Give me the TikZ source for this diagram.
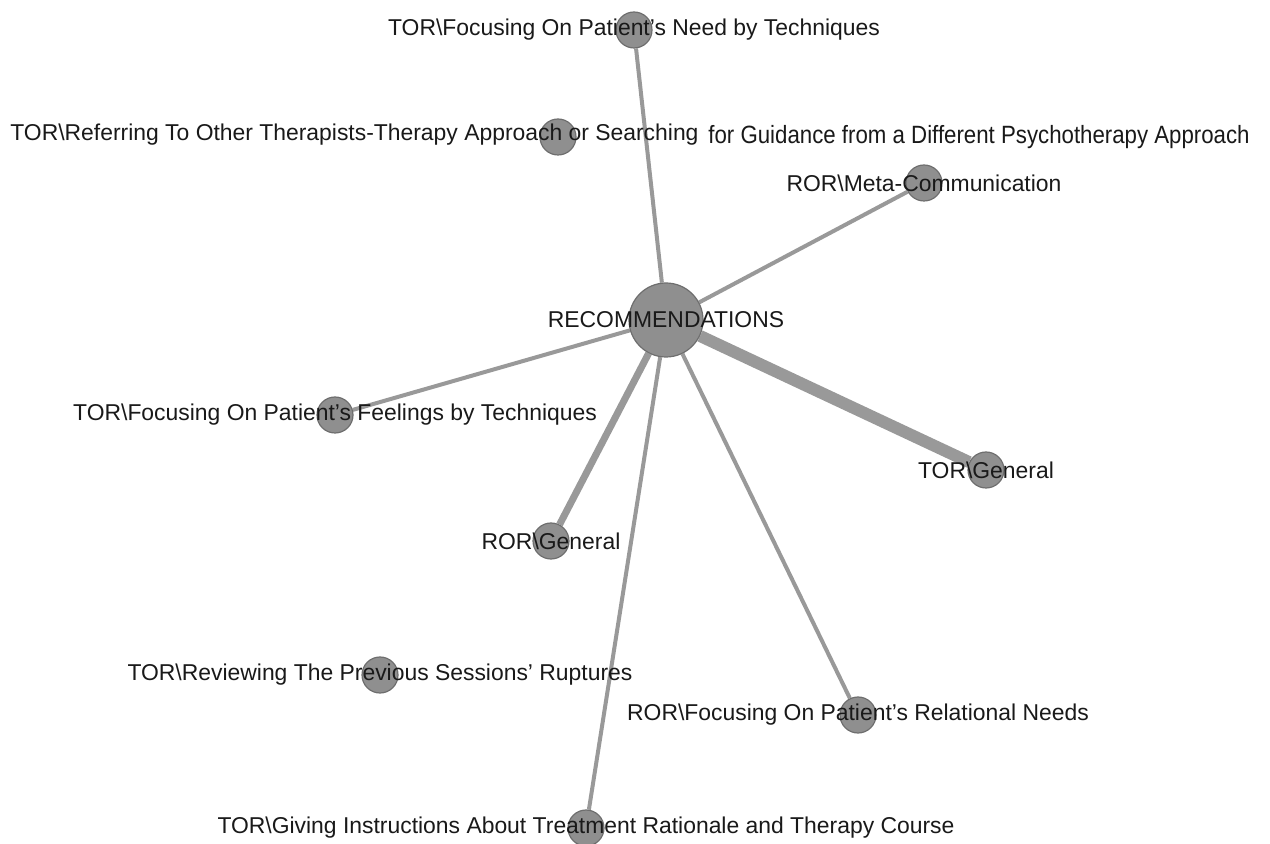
\documentclass[tikz,border=0pt]{standalone}
\usepackage{fontspec}
\setmainfont{Liberation Sans}
\usetikzlibrary{backgrounds}

\begin{document}
\begin{tikzpicture}[
    x=0.5pt,
    y=-0.5pt,
    every node/.style={inner sep=0pt},
    code/.style={
      circle,
      draw=black!57,
      fill=black!44,
      line width=0.6pt,
      minimum size=18pt
    },
    hub/.style={code, minimum size=37pt},
    lbl/.style={font=\fontsize{11.45}{13}\selectfont, text=black!90},
    link/.style={draw=black!40, line width=2pt}
  ]
  \useasboundingbox (0,0) rectangle (1270,844);

  % code nodes
  \node[hub]  (rec)   at (666,320) {};
  \node[code] (need)  at (634,30)  {};
  \node[code] (refer) at (558,137) {};
  \node[code] (meta)  at (924,183) {};
  \node[code] (feel)  at (335,415) {};
  \node[code] (torg)  at (986,470) {};
  \node[code] (rorg)  at (551,541) {};
  \node[code] (rev)   at (380,675) {};
  \node[code] (rel)   at (858,715) {};
  \node[code] (give)  at (586,828) {};

  % links
  \begin{scope}[on background layer]
    \draw[link] (rec) -- (need);
    \draw[link] (rec) -- (meta);
    \draw[link] (rec) -- (feel);
    \draw[link, line width=6pt] (rec) -- (torg);
    \draw[link, line width=3.5pt] (rec) -- (rorg);
    \draw[link] (rec) -- (give);
    \draw[link] (rec) -- (rel);
  \end{scope}

  % labels
  \node[lbl] (rec-l)  at (rec)  {RECOMMENDATIONS};
  \node[lbl] (need-l) at (need) {TOR\textbackslash Focusing On Patient’s Need by Techniques};
  \node[lbl, anchor=west] (refer-l) at (10,135)
    {TOR\textbackslash Referring To Other Therapists-Therapy Approach or Searching};
  \node[lbl, font=\fontsize{12.5}{15}\selectfont, anchor=west] (refer-m) at (708,137)
    {\scalebox{0.89}[1]{for Guidance from a Different Psychotherapy Approach}};
  \node[lbl] (meta-l) at (meta) {ROR\textbackslash Meta-Communication};
  \node[lbl] (feel-l) at (feel) {TOR\textbackslash Focusing On Patient’s Feelings by Techniques};
  \node[lbl] (torg-l) at (torg) {TOR\textbackslash General};
  \node[lbl] (rorg-l) at (rorg) {ROR\textbackslash General};
  \node[lbl] (rev-l)  at (rev)  {TOR\textbackslash Reviewing The Previous Sessions’ Ruptures};
  \node[lbl] (rel-l)  at (rel)  {ROR\textbackslash Focusing On Patient’s Relational Needs};
  \node[lbl] (give-l) at (give) {TOR\textbackslash Giving Instructions About Treatment Rationale and Therapy Course};
\end{tikzpicture}
\end{document}
